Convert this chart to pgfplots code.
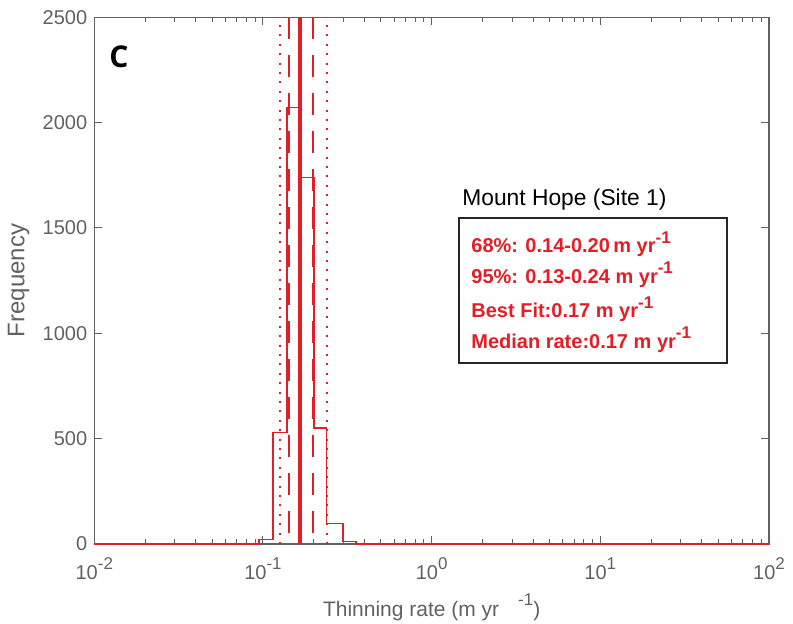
\documentclass[border=0pt]{standalone}
\usepackage{fontspec}
\setmainfont{Liberation Sans}
\newfontfamily\opensans{Open Sans}
\usepackage{pgfplots}
\pgfplotsset{compat=1.18}
\definecolor{hred}{RGB}{228,30,38}
\definecolor{axgray}{gray}{0.38}
\newcommand{\sups}[1]{\raisebox{0.5em}{\fontsize{8.5}{9}\selectfont #1}}
\newcommand{\supr}[1]{\raisebox{0.48em}{\fontsize{8.5}{9}\selectfont\bfseries #1}}
\begin{document}
\begin{tikzpicture}
\path[use as bounding box] (0,0) rectangle (396.5pt,312pt);
\begin{axis}[
  at={(47.15pt,40pt)}, anchor=south west,
  scale only axis, width=337.35pt, height=263.35pt,
  xmode=log, xmin=0.01, xmax=100, ymin=0, ymax=2500,
  xtick={0.01,0.1,1,10,100},
  xticklabels={10\sups{-2},10\sups{-1},10\sups{0},10\sups{1},10\sups{2}},
  ytick={0,500,1000,1500,2000,2500},
  /pgf/number format/1000 sep={},
  /pgf/number format/assume math mode=true,
  tick align=inside,
  major tick length=4pt, minor tick length=2.5pt,
  axis line style={axgray, line width=0.6pt},
  every tick/.style={axgray, line width=0.5pt},
  ticklabel style={font=\fontsize{10}{12}\selectfont, text=axgray},
  xticklabel style={yshift=-3.5pt},
  xlabel={Thinning rate (m yr\hspace{0.9em}\sups{-1})},
  ylabel={Frequency},
  xlabel style={at={(axis description cs:0.5,-0.12)}, anchor=center, font=\fontsize{10.5}{12}\selectfont, text=axgray},
  ylabel style={at={(axis description cs:-0.112,0.5)}, anchor=center, font=\fontsize{12}{14}\selectfont, text=axgray},
  clip=false,
]
\addplot[const plot, hred, line width=0.7pt] coordinates {
 (0.01,0) (0.0946,22) (0.1146,530) (0.1388,2071) (0.1657,1739) (0.2006,551) (0.239,98) (0.298,13) (0.356,0) (100,0)};
\addplot[hred, line width=1pt, dash pattern=on 1pt off 3.7pt] coordinates {(0.126,0) (0.126,2500)};
\addplot[hred, line width=1pt, dash pattern=on 1pt off 3.7pt] coordinates {(0.239,0) (0.239,2500)};
\addplot[hred, line width=0.75pt, dash pattern=on 11pt off 8pt] coordinates {(0.143,2500) (0.143,0)};
\addplot[hred, line width=0.75pt, dash pattern=on 11pt off 8pt] coordinates {(0.198,2500) (0.198,0)};
\addplot[hred, line width=2.3pt] coordinates {(0.166,0) (0.166,2500)};
\end{axis}
\begin{scope}[x=0.5pt, y=-0.5pt, yshift=312pt]
\node[anchor=center, font=\opensans\bfseries\fontsize{15}{15}\selectfont] at (119,57) {C};
\node[anchor=west, inner sep=0pt, font=\fontsize{11.4}{13}\selectfont] at (462,200) {Mount Hope (Site 1)};
\draw[black!85, line width=0.6pt, fill=white] (459,218) rectangle (727,363);
\begin{scope}[every node/.style={anchor=base west, inner sep=0pt, text=hred, font=\bfseries\fontsize{10}{12}\selectfont}]
\node at (471,252.7) {68\%: 0.14-0.20\,m yr\supr{-1}};
\node at (471,283.3) {95\%: 0.13-0.24 m yr\supr{-1}};
\node at (471,317.7) {Best Fit:0.17 m yr\supr{-1}};
\node at (471,348.3) {Median rate:0.17 m yr\supr{-1}};
\end{scope}
\end{scope}
\end{tikzpicture}
\end{document}
